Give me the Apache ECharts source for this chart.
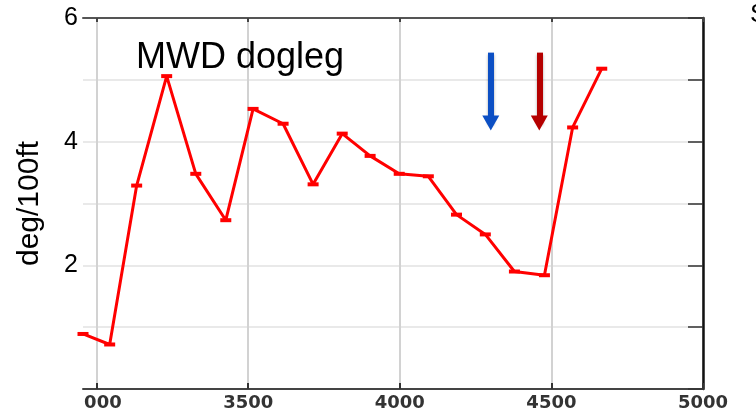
<!DOCTYPE html>
<html>
<head>
<meta charset="utf-8">
<script src="https://cdn.jsdelivr.net/npm/echarts@6/dist/echarts.min.js"></script>
<style>
  html, body { margin: 0; padding: 0; background: #fff; }
  #main { width: 756px; height: 413px; }
</style>
</head>
<body>
<div id="main"></div>
<script>
// measured depth (ft) and MWD dogleg severity (deg/100ft)
var depth = [2955, 3043, 3132, 3231, 3327, 3426, 3516, 3615, 3714, 3810, 3902, 3998, 4094, 4187, 4282, 4378, 4477, 4570, 4666];
var dogleg = [0.89, 0.72, 3.29, 5.06, 3.48, 2.73, 4.53, 4.29, 3.31, 4.13, 3.77, 3.48, 3.44, 2.82, 2.50, 1.90, 1.84, 4.23, 5.18];
var xTicks = [3000, 3500, 4000, 4500, 5000];
var yLabels = [2, 4, 6];
// arrows marking the two depths of interest
var blueArrowX = 4300, redArrowX = 4460;
var arrowTop = 5.44, arrowEnd = 4.30;

var myChart = echarts.init(document.getElementById('main'));

var points = depth.map(function (d, i) { return [d, dogleg[i]]; });

function arrow(x, color) {
  var st = { color: color, width: 6, type: 'solid', shadowBlur: 3, shadowColor: 'rgba(0,0,0,0.35)', shadowOffsetY: 2 };
  return [{ coord: [x, arrowTop], lineStyle: st, itemStyle: { color: color } },
          { coord: [x, arrowEnd], lineStyle: st, itemStyle: { color: color } }];
}

var option = {
  animation: false,
  backgroundColor: '#fff',
  grid: { left: 83, right: 53, top: 18, bottom: 24 },
  xAxis: [{
    type: 'value', position: 'bottom', min: 2955, max: 5000,
    axisLine: { show: true, onZero: false, lineStyle: { color: '#444', width: 2 } },
    axisTick: { show: true, inside: true, length: 6, customValues: xTicks, lineStyle: { color: '#333', width: 2 } },
    axisLabel: {
      customValues: xTicks, color: '#333', fontFamily: 'DejaVu Sans', fontWeight: 'bold', fontSize: 18, margin: 5,
      formatter: function (v) { return String(v); }
    },
    splitLine: { show: true, lineStyle: { color: '#d2d2d2', width: 2 } }
  }, {
    type: 'value', position: 'top', min: 2955, max: 5000,
    axisLine: { show: true, onZero: false, lineStyle: { color: '#555', width: 2 } },
    axisTick: { show: true, inside: true, length: 4, customValues: xTicks, lineStyle: { color: '#444', width: 2 } },
    axisLabel: { show: false },
    splitLine: { show: false }
  }],
  yAxis: [{
    type: 'value', position: 'left', min: 0, max: 6, interval: 1,
    name: 'deg/100ft', nameLocation: 'middle', nameGap: 38, nameRotate: 90,
    nameTextStyle: { color: '#000', fontFamily: 'Liberation Sans', fontSize: 30 },
    axisLine: { show: false, onZero: false },
    axisTick: { show: false },
    axisLabel: {
      color: '#000', fontFamily: 'Liberation Sans', fontSize: 25, margin: 5,
      formatter: function (v) { return yLabels.indexOf(v) >= 0 ? String(v) : ''; }
    },
    splitLine: { show: true, lineStyle: { color: '#e2e2e2', width: 1.5 } }
  }, {
    type: 'value', position: 'right', min: 0, max: 6, interval: 1,
    axisLine: { show: true, onZero: false, lineStyle: { color: '#111', width: 2.5 } },
    axisTick: { show: true, inside: true, length: 15, lineStyle: { color: '#333', width: 1.5 } },
    axisLabel: { show: false },
    splitLine: { show: false }
  }],
  graphic: [
    { type: 'text', left: 136, top: 40, z: 100,
      style: { text: 'MWD dogleg', fill: '#000', font: '36px "Liberation Sans"' } },
    { type: 'rect', left: 0, top: 392, z: 100,
      shape: { width: 83, height: 21 }, style: { fill: '#fff' } },
    { type: 'text', left: 750, top: 2, z: 100,
      style: { text: 'S', fill: '#000', font: '26px "Liberation Sans"' } }
  ],
  series: [{
    type: 'line',
    data: points,
    symbol: 'rect',
    symbolSize: [11, 4],
    lineStyle: { color: '#ff0000', width: 3 },
    itemStyle: { color: '#ff0000' },
    markLine: {
      silent: true,
      symbol: ['none', 'triangle'],
      symbolSize: [17, 15],
      label: { show: false },
      data: [arrow(blueArrowX, '#0c4fc4'), arrow(redArrowX, '#b50000')]
    }
  }]
};

myChart.setOption(option);
window.onresize = function () { myChart.resize(); };
</script>
</body>
</html>
